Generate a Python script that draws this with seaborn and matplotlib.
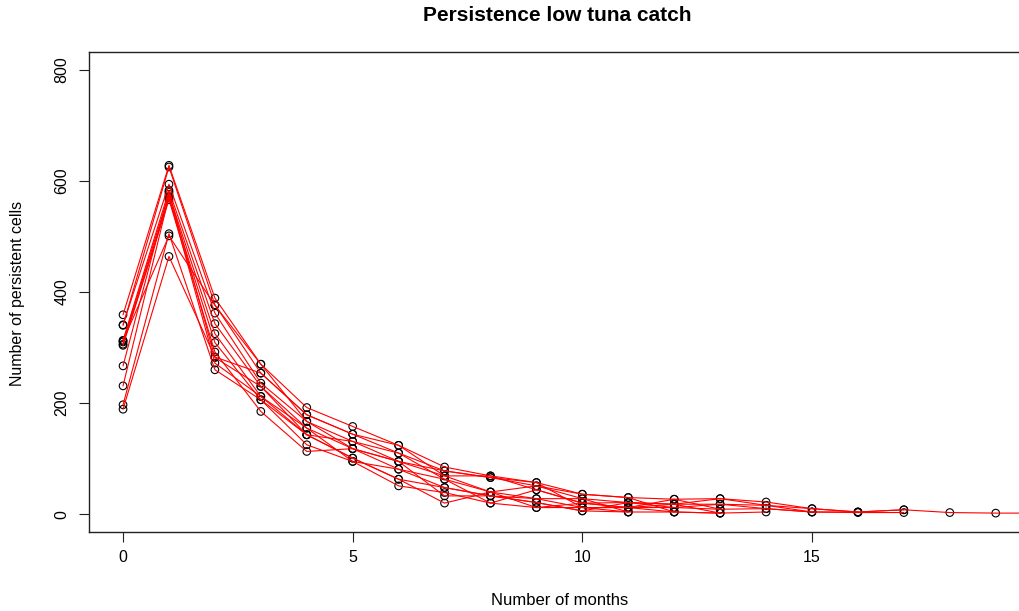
import pandas as pd
import seaborn as sns
import matplotlib.pyplot as plt

# number of persistent cells per month, one list per run
run01 = [359, 628, 389, 270, 192, 158, 124, 85, 69, 57, 36, 30, 27, 28, 22, 10, 4, 8, 3, 2, 2]
run02 = [340, 625, 377, 254, 179, 144, 110, 78, 66, 51, 28, 21, 18, 18, 16, 4, 3, 3]
run03 = [341, 594, 362, 236, 167, 131, 95, 69, 69, 44, 20, 12, 12, 9, 10, 4]
run04 = [313, 583, 343, 230, 155, 118, 81, 63, 40, 28, 12, 4, 4, 2, 4]
run05 = [310, 576, 325, 212, 143, 101, 63, 48, 33, 21, 6, 21, 18, 2]
run06 = [306, 570, 309, 206, 125, 95, 51, 39, 20, 12, 20, 12, 4]
run07 = [304, 566, 292, 185, 113, 118, 95, 33, 33, 28, 28, 4]
run08 = [267, 580, 282, 230, 143, 101, 63, 20, 40, 12, 12, 12, 27, 9]
run09 = [231, 572, 272, 212, 155, 95, 81, 48, 33, 21, 6, 4]
run10 = [197, 505, 260, 206, 143, 131, 110, 63, 20, 44, 20, 21, 12, 18, 10, 4, 4]
run11 = [189, 464, 283, 254, 179, 144, 124, 69, 40, 51, 36, 30, 4, 2]
run12 = [312, 501, 376, 270, 167, 118, 95, 78, 66, 57, 12, 12, 18, 28, 16, 10, 4, 8]

runs = [run01, run02, run03, run04, run05, run06,
        run07, run08, run09, run10, run11, run12]

y_ticks = [0, 200, 400, 600, 800]
x_ticks = [0, 5, 10, 15]

# long table for seaborn
rows = []
for i, run in enumerate(runs):
    for month, cells in enumerate(run):
        rows.append({'run': i, 'month': month, 'cells': cells})
df = pd.DataFrame(rows)

sns.set_style('white')
plt.rcParams['font.family'] = ['Liberation Sans', 'DejaVu Sans']
plt.rcParams['text.color'] = 'black'
plt.rcParams['xtick.color'] = 'black'
plt.rcParams['ytick.color'] = 'black'

fig = plt.figure(figsize=(10.2, 6.11), dpi=100)
# axes wider than the figure: the right side of the box is cut off
ax = fig.add_axes([0.0873, 0.1293, 1.024, 0.7856])

sns.scatterplot(data=df, x='month', y='cells', ax=ax, s=30, marker='o',
                facecolor='none', edgecolor='black', linewidth=0.8,
                legend=False, zorder=2)
sns.lineplot(data=df, x='month', y='cells', units='run', estimator=None,
             ax=ax, color='red', linewidth=0.8, legend=False, zorder=3)

ax.set_xlim(-0.74, 22)
ax.set_ylim(-32, 832)
ax.set_xticks(x_ticks)
ax.set_yticks(y_ticks)
ax.set_yticklabels([str(v) for v in y_ticks], rotation=90, va='center')
ax.tick_params(axis='both', direction='out', length=7, width=0.8,
               color='#222222', labelcolor='black', labelsize=11.5, pad=6,
               bottom=True, left=True)
ax.tick_params(axis='y', pad=7)
for spine in ax.spines.values():
    spine.set_visible(True)
    spine.set_color('#222222')
    spine.set_linewidth(1.0)

ax.set_xlabel('')
ax.set_ylabel('')
fig.text(0.549, 0.018, 'Number of months', ha='center', va='center', fontsize=12)
fig.text(0.017, 0.52, 'Number of persistent cells', ha='center', va='center',
         rotation=90, fontsize=11.5)
fig.text(0.546, 0.975, 'Persistence low tuna catch', ha='center', va='center',
         fontsize=15, fontweight='bold')

fig.savefig('out.png', dpi=100)
